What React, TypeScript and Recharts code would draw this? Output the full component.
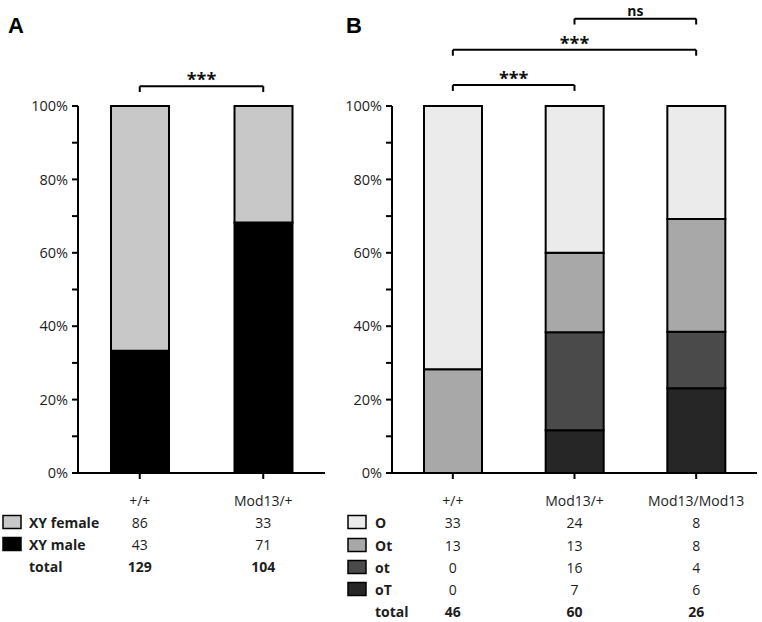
import React from 'react';
import { BarChart, Bar, XAxis, YAxis, ReferenceLine } from 'recharts';

// panel A counts
const groupsA = ['+/+', 'Mod13/+'];
const xyFemale = [86, 33];
const xyMale = [43, 71];
const totalA = [129, 104];

// panel B counts
const groupsB = ['+/+', 'Mod13/+', 'Mod13/Mod13'];
const countO = [33, 24, 8];
const countOt = [13, 13, 8];
const countot = [0, 16, 4];
const countoT = [0, 7, 6];
const totalB = [46, 60, 26];

const yTicks = [0, 0.1, 0.2, 0.3, 0.4, 0.5, 0.6, 0.7, 0.8, 0.9, 1];

// significance brackets (level in fraction of 100%)
const bracketsA = [{ from: '+/+', to: 'Mod13/+', level: 1.054, label: '***' }];
const bracketsB = [
  { from: '+/+', to: 'Mod13/+', level: 1.057, label: '***' },
  { from: '+/+', to: 'Mod13/Mod13', level: 1.153, label: '***' },
  { from: 'Mod13/+', to: 'Mod13/Mod13', level: 1.238, label: 'ns' },
];

const colors = {
  female: '#c8c8c8',
  male: '#000000',
  O: '#ebebeb',
  Ot: '#a8a8a8',
  ot: '#4a4a4a',
  oT: '#262626',
};

const FONT = '"Open Sans", Lato, sans-serif';
const TXT = '#1e1e1e';
const FS = 14;

const dataA = groupsA.map((name, i) => ({ name, male: xyMale[i], female: xyFemale[i] }));
const dataB = groupsB.map((name, i) => ({
  name,
  oT: countoT[i],
  ot: countot[i],
  Ot: countOt[i],
  O: countO[i],
}));

const pctFormat = (v: number) => {
  const p = Math.round(v * 100);
  return p % 20 === 0 ? `${p}%` : '';
};

const rowsA = [
  { key: 'female', label: 'XY female', values: xyFemale, color: colors.female, bold: false },
  { key: 'male', label: 'XY male', values: xyMale, color: colors.male, bold: false },
  { key: 'total', label: 'total', values: totalA, color: null, bold: true },
];
const rowsB = [
  { key: 'O', label: 'O', values: countO, color: colors.O, bold: false },
  { key: 'Ot', label: 'Ot', values: countOt, color: colors.Ot, bold: false },
  { key: 'ot', label: 'ot', values: countot, color: colors.ot, bold: false },
  { key: 'oT', label: 'oT', values: countoT, color: colors.oT, bold: false },
  { key: 'total', label: 'total', values: totalB, color: null, bold: true },
];

const rowYA = [522, 544, 566];
const rowYB = [522, 545, 567, 589, 611];
const labelY = 500;
const AXIS_Y = 473;
const TICK = 6;

const makeTableTick = (groups: string[], rows: any[], rowY: number[]) => (props: any) => {
  const { x, y, payload } = props;
  const idx = groups.indexOf(payload.value);
  return (
    <g transform={`translate(${x},${y})`} fontFamily={FONT} fontSize={FS} fill={TXT}>
      <text textAnchor="middle" dominantBaseline="central" y={labelY - AXIS_Y - TICK}>
        {payload.value}
      </text>
      {rows.map((r, k) => (
        <text
          key={r.key}
          textAnchor="middle"
          dominantBaseline="central"
          y={rowY[k] - AXIS_Y - TICK}
          fontWeight={r.bold ? 700 : 400}
        >
          {r.values[idx]}
        </text>
      ))}
    </g>
  );
};

const renderBracket = (b: any, i: number) => {
  const low = b.level - 0.016;
  const common = { stroke: '#000', strokeWidth: 2, ifOverflow: 'visible' as const };
  const isNs = b.label === 'ns';
  return [
    <ReferenceLine
      key={`h${i}`}
      {...common}
      segment={[{ x: b.from, y: b.level }, { x: b.to, y: b.level }]}
      label={{
        value: b.label,
        position: 'top',
        offset: isNs ? 3 : 0,
        fill: '#111',
        fontSize: isNs ? 14 : 18,
        fontWeight: 700,
        fontFamily: FONT,
      }}
    />,
    <ReferenceLine key={`l${i}`} {...common} segment={[{ x: b.from, y: low }, { x: b.from, y: b.level }]} />,
    <ReferenceLine key={`r${i}`} {...common} segment={[{ x: b.to, y: low }, { x: b.to, y: b.level }]} />,
  ];
};

const axisLine = { stroke: '#000', strokeWidth: 2 };

const Legend = ({ rows, rowY, sx, tx }: any) => (
  <g fontFamily={FONT} fontSize={FS} fontWeight={700} fill={TXT}>
    {rows.map((r: any, k: number) => (
      <g key={r.key}>
        {r.color && (
          <rect x={sx} y={rowY[k] - 6.5} width={18} height={13} fill={r.color} stroke="#000" strokeWidth={1.5} />
        )}
        <text x={tx} y={rowY[k]} dominantBaseline="central">
          {r.label}
        </text>
      </g>
    ))}
  </g>
);

export default function App() {
  return (
    <div
      style={{
        position: 'absolute',
        left: 0,
        top: 0,
        width: 762,
        height: 622,
        background: '#fff',
        overflow: 'hidden',
      }}
    >
      <svg width={762} height={622} style={{ position: 'absolute', left: 0, top: 0 }}>
        <text x={8} y={33} fontFamily='"Liberation Sans", Arial, sans-serif' fontWeight={700} fontSize={22} fill="#000">
          A
        </text>
        <text x={346} y={33} fontFamily='"Liberation Sans", Arial, sans-serif' fontWeight={700} fontSize={22} fill="#000">
          B
        </text>
        <Legend rows={rowsA} rowY={rowYA} sx={3} tx={29} />
        <Legend rows={rowsB} rowY={rowYB} sx={348} tx={375} />
      </svg>

      <div style={{ position: 'absolute', left: 0, top: 0 }}>
        <BarChart
          width={340}
          height={622}
          data={dataA}
          stackOffset="expand"
          margin={{ top: 106, right: 15, left: 0, bottom: 0 }}
        >
          <XAxis
            dataKey="name"
            height={149}
            interval={0}
            axisLine={axisLine}
            tickLine={axisLine}
            tickSize={TICK}
            tickMargin={0}
            tick={makeTableTick(groupsA, rowsA, rowYA)}
          />
          <YAxis
            type="number"
            domain={[0, 1]}
            ticks={yTicks}
            tickFormatter={pctFormat}
            width={78}
            axisLine={axisLine}
            tickLine={axisLine}
            tickSize={TICK}
            tickMargin={4}
            tick={{ fill: TXT, fontSize: 14.5, fontFamily: FONT }}
          />
          <Bar dataKey="male" stackId="a" fill={colors.male} stroke="#000" strokeWidth={2} barSize={58} isAnimationActive={false} />
          <Bar dataKey="female" stackId="a" fill={colors.female} stroke="#000" strokeWidth={2} barSize={58} isAnimationActive={false} />
          {bracketsA.flatMap(renderBracket)}
        </BarChart>
      </div>

      <div style={{ position: 'absolute', left: 340, top: 0 }}>
        <BarChart
          width={422}
          height={622}
          data={dataB}
          stackOffset="expand"
          margin={{ top: 106, right: 5, left: 0, bottom: 0 }}
        >
          <XAxis
            dataKey="name"
            height={149}
            interval={0}
            axisLine={axisLine}
            tickLine={axisLine}
            tickSize={TICK}
            tickMargin={0}
            tick={makeTableTick(groupsB, rowsB, rowYB)}
          />
          <YAxis
            type="number"
            domain={[0, 1]}
            ticks={yTicks}
            tickFormatter={pctFormat}
            width={52}
            axisLine={axisLine}
            tickLine={axisLine}
            tickSize={TICK}
            tickMargin={4}
            tick={{ fill: TXT, fontSize: 14.5, fontFamily: FONT }}
          />
          <Bar dataKey="oT" stackId="b" fill={colors.oT} stroke="#000" strokeWidth={2} barSize={58} isAnimationActive={false} />
          <Bar dataKey="ot" stackId="b" fill={colors.ot} stroke="#000" strokeWidth={2} barSize={58} isAnimationActive={false} />
          <Bar dataKey="Ot" stackId="b" fill={colors.Ot} stroke="#000" strokeWidth={2} barSize={58} isAnimationActive={false} />
          <Bar dataKey="O" stackId="b" fill={colors.O} stroke="#000" strokeWidth={2} barSize={58} isAnimationActive={false} />
          {bracketsB.flatMap(renderBracket)}
        </BarChart>
      </div>
    </div>
  );
}
